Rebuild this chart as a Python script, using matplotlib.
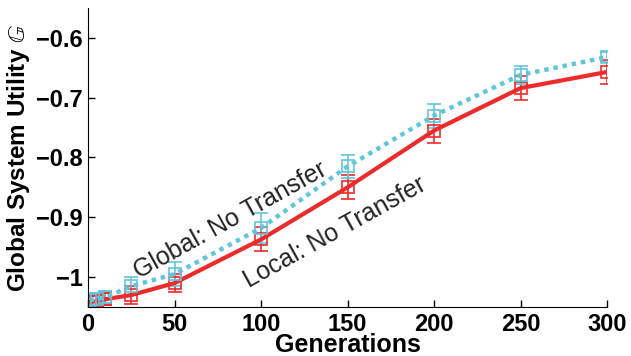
import numpy as np
import matplotlib
matplotlib.use("Agg")
import matplotlib.pyplot as plt

plt.rcParams['font.family'] = ['Liberation Sans', 'DejaVu Sans']
plt.rcParams['mathtext.fontset'] = 'stix'

# data
generations = [1, 5, 10, 25, 50, 100, 150, 200, 250, 300]
local_mean = [-1.042, -1.040, -1.037, -1.030, -1.010, -0.937, -0.850, -0.755, -0.684, -0.657]
local_err = [0.010, 0.010, 0.010, 0.015, 0.015, 0.020, 0.020, 0.020, 0.020, 0.020]
global_mean = [-1.038, -1.037, -1.034, -1.015, -0.995, -0.918, -0.815, -0.730, -0.662, -0.632]
global_err = [0.010, 0.010, 0.010, 0.015, 0.020, 0.025, 0.020, 0.020, 0.015, 0.008]

red = '#EE2A2A'
cyan = '#62C6DB'

fig = plt.figure(figsize=(6.31, 3.56), dpi=100)
ax = fig.add_axes([0.1395, 0.1376, 0.8225, 0.84])

ax.errorbar(generations, local_mean, yerr=local_err, color=red, lw=3,
            marker='s', ms=8, mfc='none', mec=red, mew=1.2,
            ecolor=red, elinewidth=1.2, capsize=5, capthick=1.2)
line, _, _ = ax.errorbar(generations, global_mean, yerr=global_err, color=cyan, lw=3.2,
                         marker='s', ms=8, mfc='none', mec=cyan, mew=1.2,
                         ecolor=cyan, elinewidth=1.2, capsize=5, capthick=1.2)
line.set_dashes([1, 1.1])
line.set_dash_capstyle('butt')

ax.text(82, -0.905, 'Global: No Transfer', rotation=29, fontsize=18,
        ha='center', va='center', color='#222222')
ax.text(143, -0.925, 'Local: No Transfer', rotation=29, fontsize=18,
        ha='center', va='center', color='#222222')

ax.set_xlim(0, 300)
ax.set_ylim(-1.05, -0.55)
ax.set_xticks([0, 50, 100, 150, 200, 250, 300])
ax.set_yticks([-1, -0.9, -0.8, -0.7, -0.6])
ax.set_yticklabels(['\u22121', '\u22120.9', '\u22120.8', '\u22120.7', '\u22120.6'])
ax.tick_params(direction='in', length=5, width=1, labelsize=17, pad=4)
for lab in ax.get_xticklabels() + ax.get_yticklabels():
    lab.set_fontweight('bold')

ax.spines['top'].set_visible(False)
ax.spines['right'].set_visible(False)

ax.set_xlabel('Generations', fontsize=18, fontweight='bold', labelpad=-1.5)
ax.set_ylabel(r'Global System Utility $\mathbb{G}$', fontsize=17.5, fontweight='bold', labelpad=3)

fig.savefig('out.png', dpi=100)
